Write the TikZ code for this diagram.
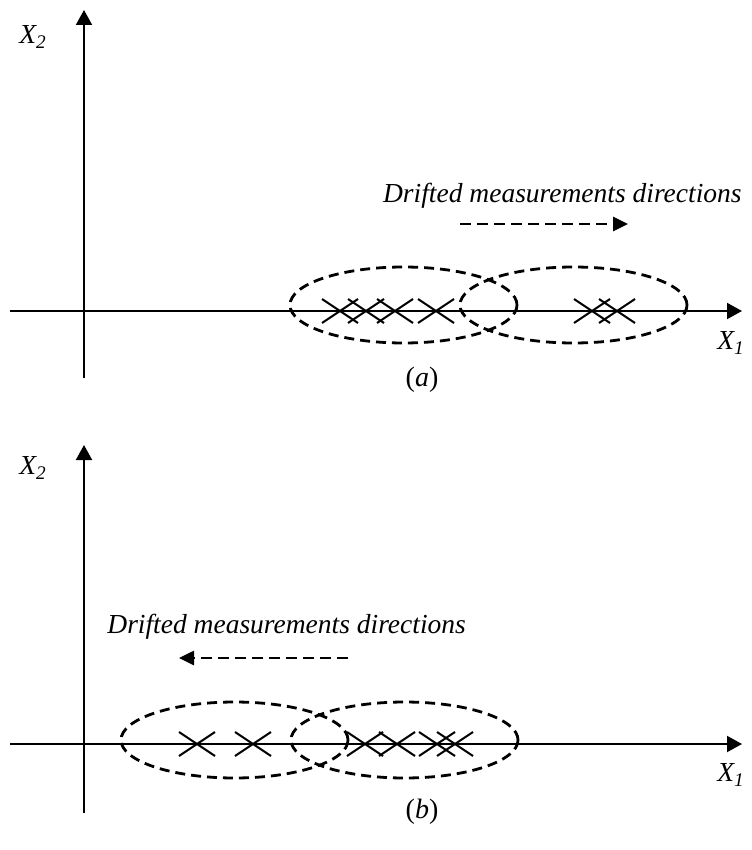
\documentclass[tikz,border=0pt]{standalone}
\usepackage{fontspec}
\setmainfont{Liberation Serif}
\usetikzlibrary{arrows.meta}

\tikzset{
  axis/.style={line width=1pt,-{Triangle[length=7.5pt,width=8pt]}},
  zone/.style={line width=1.4pt,dash pattern=on 5pt off 3pt},
  drift/.style={line width=1.3pt,dash pattern=on 5.5pt off 3pt,-{Triangle[length=7.5pt,width=7pt]}},
  meas/.style={line width=1pt},
  lbl/.style={font=\fontsize{13.75}{16}\selectfont\itshape,inner sep=0pt},
  caption/.style={font=\fontsize{14}{16}\selectfont,inner sep=0pt}
}

\begin{document}
\begin{tikzpicture}[x=0.5pt,y=-0.5pt]
  \useasboundingbox (0,0) rectangle (751,850);

  % panel (a)
  \coordinate (aO) at (84,378);
  \coordinate (aY) at (84,10);
  \coordinate (aL) at (10,311);
  \coordinate (aR) at (742,311);
  \draw[axis] (aO) -- (aY);
  \draw[axis] (aL) -- (aR);
  \node[lbl] (aX2) at (33,37) {X\textsubscript{2}};
  \node[lbl] (aX1) at (731,343) {X\textsubscript{1}};
  \draw[zone] (403.5,305) ellipse [x radius=113.5,y radius=38];
  \draw[zone] (573.5,305) ellipse [x radius=113.5,y radius=38];
  \foreach \cx in {340,366,395,436,592,617}
    \draw[meas] (\cx,311) +(-18,-12) -- +(18,12) +(-18,12) -- +(18,-12);
  \node[lbl,anchor=base east] (aTxt) at (742,203) {Drifted measurements directions};
  \coordinate (aS) at (460,224);
  \coordinate (aE) at (628,224);
  \draw[drift] (aS) -- (aE);
  \node[caption] (aCap) at (422,380) {({\itshape a})};

  % panel (b)
  \coordinate (bO) at (84,813);
  \coordinate (bY) at (84,445);
  \coordinate (bL) at (10,744);
  \coordinate (bR) at (742,744);
  \draw[axis] (bO) -- (bY);
  \draw[axis] (bL) -- (bR);
  \node[lbl] (bX2) at (33,468) {X\textsubscript{2}};
  \node[lbl] (bX1) at (731,775) {X\textsubscript{1}};
  \draw[zone] (234.5,740) ellipse [x radius=113.5,y radius=38];
  \draw[zone] (404.5,740) ellipse [x radius=113.5,y radius=38];
  \foreach \cx in {197,253,365,397,437,455}
    \draw[meas] (\cx,744) +(-18,-12) -- +(18,12) +(-18,12) -- +(18,-12);
  \node[lbl,anchor=base west] (bTxt) at (107,633) {Drifted measurements directions};
  \coordinate (bS) at (348,658);
  \coordinate (bE) at (179,658);
  \draw[drift] (bS) -- (bE);
  \node[caption] (bCap) at (422,812) {({\itshape b})};
\end{tikzpicture}
\end{document}
